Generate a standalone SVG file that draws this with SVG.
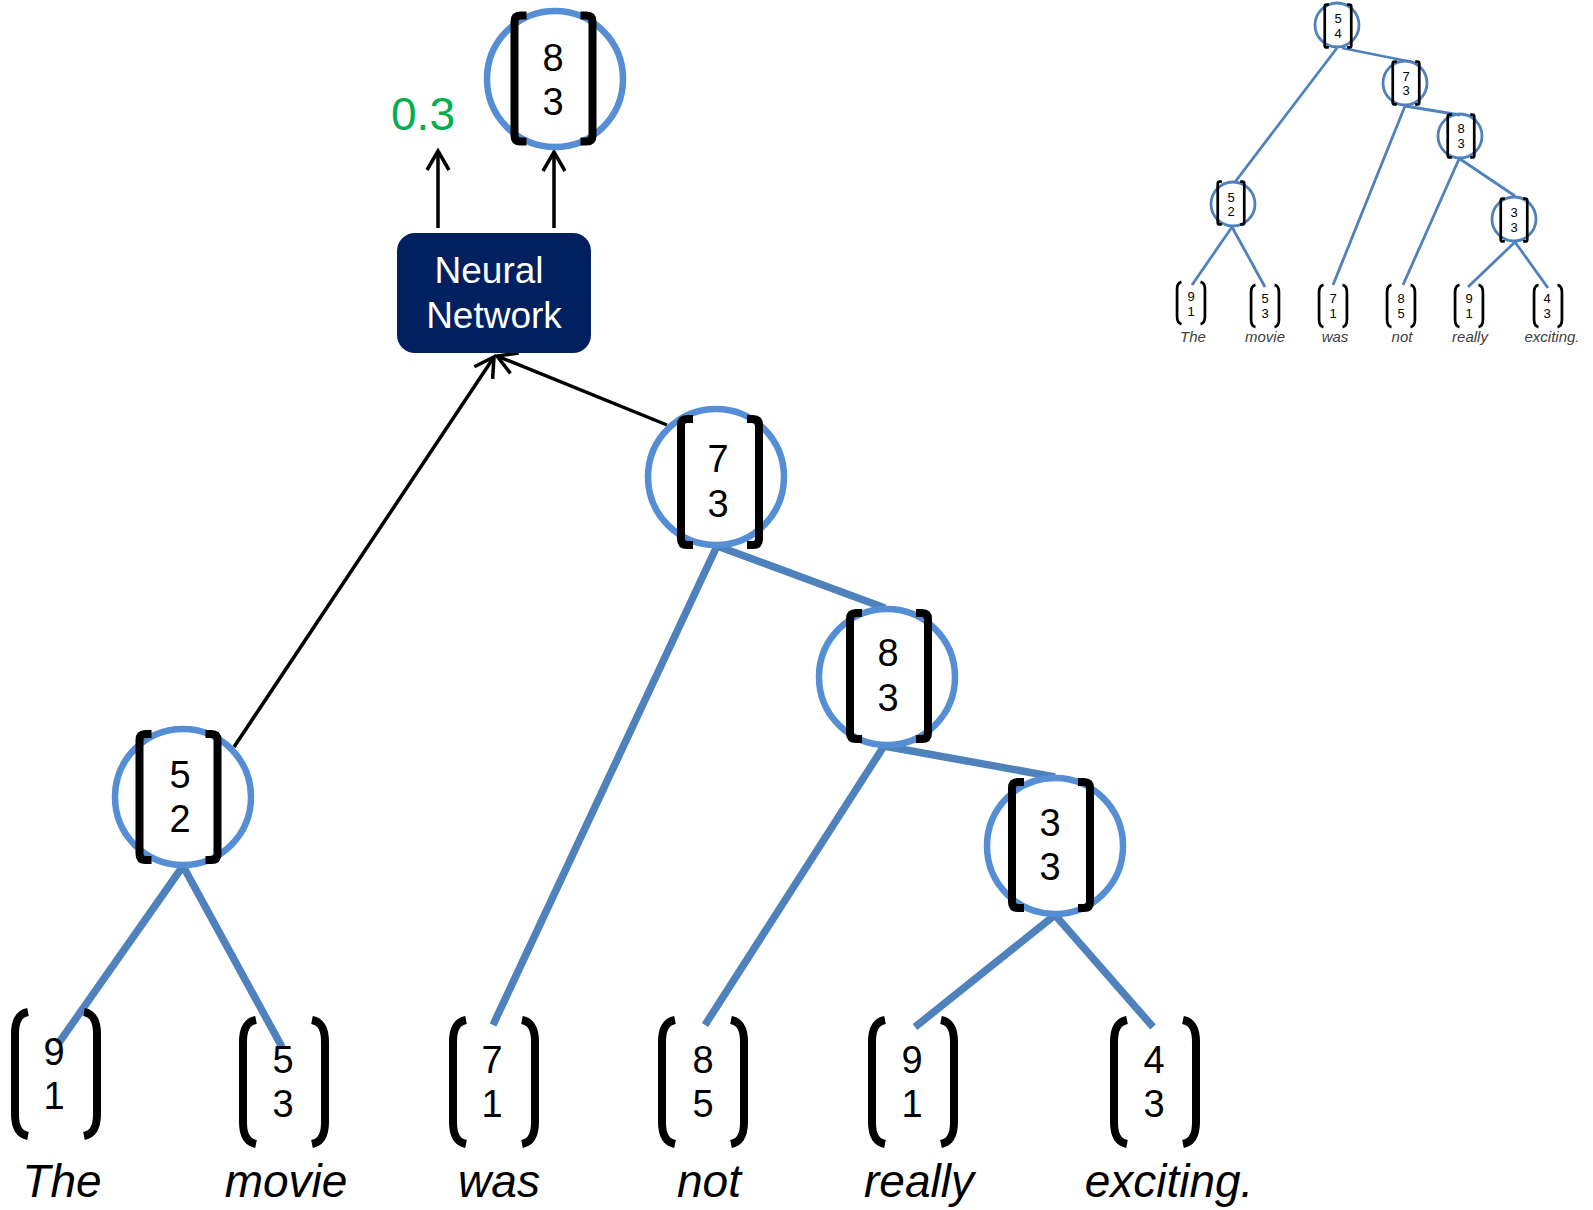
<svg xmlns="http://www.w3.org/2000/svg" xmlns:xlink="http://www.w3.org/1999/xlink" width="1593" height="1210" viewBox="0 0 1593 1210">
<style>
.ring{fill:none;stroke:#558ED5;stroke-width:6.5}
.sring{fill:none;stroke:#4F81BD;stroke-width:2.8}
.edge{stroke:#4F81BD;stroke-width:7.5;fill:none}
.sedge{stroke:#4F81BD;stroke-width:2.8;fill:none}
.arrow{stroke:#000;stroke-width:3.5;fill:none}
.br{fill:none;stroke:#000;stroke-width:8}
.num{font-family:"Liberation Sans",Arial,sans-serif;font-size:38px;fill:#000;text-anchor:middle}
.snum{font-family:"Liberation Sans",Arial,sans-serif;font-size:13px;fill:#000;text-anchor:middle}
.word{font-family:"Liberation Sans",Arial,sans-serif;font-size:46px;font-style:italic;fill:#000;text-anchor:middle}
.sword{font-family:"Liberation Sans",Arial,sans-serif;font-size:15px;font-style:italic;fill:#404040;text-anchor:middle}
.nn{font-family:"Liberation Sans",Arial,sans-serif;font-size:37px;fill:#fff;text-anchor:middle}
.score{font-family:"Liberation Sans",Arial,sans-serif;font-size:46px;fill:#00B050;text-anchor:middle}
</style>
<defs>
<marker id="open" markerUnits="userSpaceOnUse" markerWidth="30" markerHeight="30" viewBox="-22 -15 26 30" refX="0" refY="0" orient="auto">
<path d="M -19,-11 L 0,0 L -19,11" fill="none" stroke="#000" stroke-width="3.5"/>
</marker>
<g id="sq">
<path class="br" d="M -27,-63 H -33 Q -39,-63 -39,-57 V 57 Q -39,63 -33,63 H -27"/>
<path class="br" d="M 27,-63 H 33 Q 39,-63 39,-57 V 57 Q 39,63 33,63 H 27"/>
</g>
<g id="par">
<path class="br" d="M -28,-62 C -38,-60 -41,-52 -41,-40 V 40 C -41,52 -38,60 -28,62"/>
<path class="br" d="M 28,-62 C 38,-60 41,-52 41,-40 V 40 C 41,52 38,60 28,62"/>
</g>
</defs>
<rect width="1593" height="1210" fill="#fff"/>

<g id="connectors">
<line class="edge" x1="183" y1="866" x2="58" y2="1044"/>
<line class="edge" x1="183" y1="866" x2="282" y2="1047"/>
<line class="edge" x1="717" y1="546" x2="493" y2="1025"/>
<line class="edge" x1="717" y1="546" x2="885" y2="608"/>
<line class="edge" x1="884" y1="746" x2="705" y2="1025"/>
<line class="edge" x1="884" y1="746" x2="1055" y2="777"/>
<line class="edge" x1="1055" y1="915" x2="915" y2="1027"/>
<line class="edge" x1="1055" y1="915" x2="1153" y2="1027"/>
<line class="arrow" x1="234" y1="747" x2="494" y2="357" marker-end="url(#open)"/>
<line class="arrow" x1="667" y1="425" x2="497" y2="356" marker-end="url(#open)"/>
<line class="arrow" x1="438" y1="228" x2="438" y2="151" marker-end="url(#open)"/>
<line class="arrow" x1="554" y1="228" x2="554" y2="152" marker-end="url(#open)"/>
<line class="sedge" x1="1337" y1="48" x2="1235" y2="182"/>
<line class="sedge" x1="1342" y1="48" x2="1412" y2="62"/>
<line class="sedge" x1="1405" y1="106" x2="1333" y2="285"/>
<line class="sedge" x1="1405" y1="106" x2="1460" y2="115"/>
<line class="sedge" x1="1459" y1="159" x2="1403" y2="285"/>
<line class="sedge" x1="1460" y1="159" x2="1515" y2="196"/>
<line class="sedge" x1="1232" y1="227" x2="1192" y2="285"/>
<line class="sedge" x1="1232" y1="227" x2="1265" y2="287"/>
<line class="sedge" x1="1515" y1="242" x2="1468" y2="287"/>
<line class="sedge" x1="1515" y1="242" x2="1548" y2="288"/>
</g>

<g id="nn">
<rect x="397" y="233" width="194" height="120" rx="18" fill="#002060"/>
<text class="nn" x="489" y="283">Neural</text>
<text class="nn" x="494" y="328">Network</text>
</g>

<g id="score">
<text class="score" x="423" y="130">0.3</text>
</g>

<g id="out83">
<circle class="ring" cx="555" cy="79" r="68"/>
<use xlink:href="#sq" transform="translate(553.5,78.5)"/>
<text class="num" x="553" y="71">8</text>
<text class="num" x="553" y="115">3</text>
</g>

<g id="n73">
<circle class="ring" cx="716" cy="477" r="68"/>
<use xlink:href="#sq" transform="translate(720,482)"/>
<text class="num" x="718" y="472">7</text>
<text class="num" x="718" y="517">3</text>
</g>

<g id="n83">
<circle class="ring" cx="887" cy="677" r="68"/>
<use xlink:href="#sq" transform="translate(889,676)"/>
<text class="num" x="888" y="666">8</text>
<text class="num" x="888" y="711">3</text>
</g>

<g id="n33">
<circle class="ring" cx="1055" cy="846" r="68"/>
<use xlink:href="#sq" transform="translate(1051,845)"/>
<text class="num" x="1050" y="836">3</text>
<text class="num" x="1050" y="880">3</text>
</g>

<g id="n52">
<circle class="ring" cx="183" cy="797" r="68"/>
<use xlink:href="#sq" transform="translate(178.5,797)"/>
<text class="num" x="180" y="788">5</text>
<text class="num" x="180" y="832">2</text>
</g>

<g id="leaf-the">
<use xlink:href="#par" transform="translate(56,1074)"/>
<text class="num" x="54" y="1065">9</text>
<text class="num" x="54" y="1109">1</text>
<text class="word" x="62" y="1197">The</text>
</g>
<g id="leaf-movie">
<use xlink:href="#par" transform="translate(284,1082)"/>
<text class="num" x="283" y="1073">5</text>
<text class="num" x="283" y="1117">3</text>
<text class="word" x="286" y="1197">movie</text>
</g>
<g id="leaf-was">
<use xlink:href="#par" transform="translate(494,1082)"/>
<text class="num" x="492" y="1073">7</text>
<text class="num" x="492" y="1117">1</text>
<text class="word" x="499" y="1197">was</text>
</g>
<g id="leaf-not">
<use xlink:href="#par" transform="translate(703,1082)"/>
<text class="num" x="703" y="1073">8</text>
<text class="num" x="703" y="1117">5</text>
<text class="word" x="709" y="1197">not</text>
</g>
<g id="leaf-really">
<use xlink:href="#par" transform="translate(913,1082)"/>
<text class="num" x="912" y="1073">9</text>
<text class="num" x="912" y="1117">1</text>
<text class="word" x="919" y="1197">really</text>
</g>
<g id="leaf-exciting">
<use xlink:href="#par" transform="translate(1155,1082)"/>
<text class="num" x="1154" y="1073">4</text>
<text class="num" x="1154" y="1117">3</text>
<text class="word" x="1169" y="1197">exciting.</text>
</g>

<g id="s54">
<circle class="sring" cx="1337" cy="25" r="22"/>
<use xlink:href="#sq" transform="translate(1338,26) scale(0.34)"/>
<text class="snum" x="1338" y="23">5</text>
<text class="snum" x="1338" y="38">4</text>
</g>
<g id="s73">
<circle class="sring" cx="1405" cy="83" r="22"/>
<use xlink:href="#sq" transform="translate(1406,83) scale(0.34)"/>
<text class="snum" x="1406" y="81">7</text>
<text class="snum" x="1406" y="95">3</text>
</g>
<g id="s83">
<circle class="sring" cx="1460" cy="136" r="22"/>
<use xlink:href="#sq" transform="translate(1461,136) scale(0.34)"/>
<text class="snum" x="1461" y="133">8</text>
<text class="snum" x="1461" y="148">3</text>
</g>
<g id="s52">
<circle class="sring" cx="1233" cy="204" r="22"/>
<use xlink:href="#sq" transform="translate(1231,203) scale(0.34)"/>
<text class="snum" x="1231" y="202">5</text>
<text class="snum" x="1231" y="216">2</text>
</g>
<g id="s33">
<circle class="sring" cx="1514" cy="219" r="22"/>
<use xlink:href="#sq" transform="translate(1514,220) scale(0.34)"/>
<text class="snum" x="1514" y="217">3</text>
<text class="snum" x="1514" y="232">3</text>
</g>

<g id="sleaf-the">
<use xlink:href="#par" transform="translate(1191,303) scale(0.34)"/>
<text class="snum" x="1191" y="301">9</text>
<text class="snum" x="1191" y="316">1</text>
<text class="sword" x="1193" y="342">The</text>
</g>
<g id="sleaf-movie">
<use xlink:href="#par" transform="translate(1265,306) scale(0.34)"/>
<text class="snum" x="1265" y="303">5</text>
<text class="snum" x="1265" y="318">3</text>
<text class="sword" x="1265" y="342">movie</text>
</g>
<g id="sleaf-was">
<use xlink:href="#par" transform="translate(1333,306) scale(0.34)"/>
<text class="snum" x="1333" y="303">7</text>
<text class="snum" x="1333" y="318">1</text>
<text class="sword" x="1335" y="342">was</text>
</g>
<g id="sleaf-not">
<use xlink:href="#par" transform="translate(1401,306) scale(0.34)"/>
<text class="snum" x="1401" y="303">8</text>
<text class="snum" x="1401" y="318">5</text>
<text class="sword" x="1402" y="342">not</text>
</g>
<g id="sleaf-really">
<use xlink:href="#par" transform="translate(1469,306) scale(0.34)"/>
<text class="snum" x="1469" y="303">9</text>
<text class="snum" x="1469" y="318">1</text>
<text class="sword" x="1470" y="342">really</text>
</g>
<g id="sleaf-exciting">
<use xlink:href="#par" transform="translate(1548,306) scale(0.34)"/>
<text class="snum" x="1547" y="303">4</text>
<text class="snum" x="1547" y="318">3</text>
<text class="sword" x="1552" y="342">exciting.</text>
</g>
</svg>
